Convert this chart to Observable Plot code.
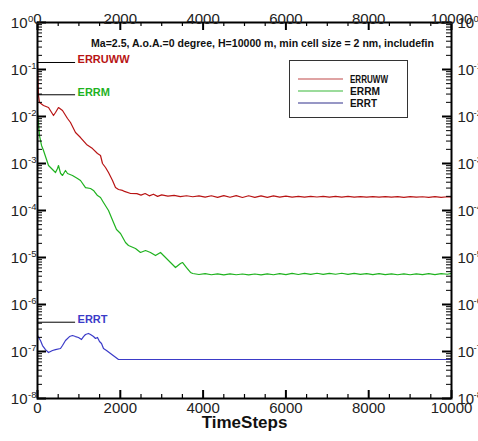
<!DOCTYPE html>
<html><head><meta charset="utf-8">
<script src="https://cdn.jsdelivr.net/npm/d3@7"></script>
<script src="https://cdn.jsdelivr.net/npm/@observablehq/plot@0.6"></script>
<style>body{margin:0;background:#fff} svg{display:block}</style>
</head><body><div id="chart"></div>
<script>
const seriesNames = ["ERRUWW", "ERRM", "ERRT"];
const seriesColors = ["#b81414", "#1fb21f", "#3b3bc8"];
const legendColors = ["#c04848", "#38b838", "#30308c"];
const titleText = "Ma=2.5, A.o.A.=0 degree, H=10000 m, min cell size = 2 nm, includefin";
const xLabel = "TimeSteps";
const xTicks = [0, 2000, 4000, 6000, 8000, 10000];
const xMinorTicks = [500, 1000, 1500, 2500, 3000, 3500, 4500, 5000, 5500, 6500, 7000, 7500, 8500, 9000, 9500];
const yExponents = [0, -1, -2, -3, -4, -5, -6, -7, -8];
const labelValues = [0.141, 0.029, 4.2e-7];
const labelLineEnd = 920;

const errruwwSteps = [0, 24, 48, 145, 266, 386, 435, 507, 604, 725, 797, 918, 1039, 1184, 1329, 1449, 1522, 1570, 1643, 1715, 1812, 1884, 1957, 2053, 2100, 2250, 2400, 2500, 2600, 2700, 2800, 2900, 3000, 3150, 3300, 3450, 3600, 3750, 3900, 4050, 4200, 4350, 4500, 4650, 4800, 4950, 5100, 5250, 5400, 5550, 5700, 5850, 6000, 6150, 6300, 6450, 6600, 6750, 6900, 7050, 7200, 7350, 7500, 7650, 7800, 7950, 8100, 8250, 8400, 8550, 8700, 8850, 9000, 9150, 9300, 9450, 9600, 9750, 9900, 10000];
const errruwwValues = [0.1276, 0.028, 0.01986, 0.01714, 0.01552, 0.0105, 0.01216, 0.01552, 0.01343, 0.00906, 0.00745, 0.00457, 0.00357, 0.00254, 0.00208, 0.00163, 0.00148, 0.001, 0.000822, 0.000644, 0.000435, 0.000308, 0.00028, 0.000267, 0.000255, 0.00023, 0.000228, 0.000212, 0.00023, 0.000205, 0.000222, 0.0002, 0.000215, 0.000202, 0.00021, 0.000197, 0.000206, 0.000196, 0.000204, 0.000192, 0.000206, 0.00019, 0.000208, 0.000191, 0.000207, 0.000189, 0.000206, 0.00019, 0.000205, 0.000191, 0.000204, 0.000192, 0.000202, 0.000193, 0.0002, 0.000193, 0.000199, 0.000194, 0.000199, 0.000193, 0.0002, 0.000192, 0.000199, 0.000193, 0.000198, 0.000192, 0.000198, 0.000193, 0.000198, 0.000192, 0.000197, 0.000191, 0.000197, 0.000192, 0.000196, 0.000191, 0.000197, 0.000191, 0.000196, 0.000193];

const errmSteps = [0, 24, 48, 97, 145, 266, 314, 386, 435, 483, 507, 556, 604, 676, 725, 845, 966, 1039, 1159, 1280, 1353, 1449, 1522, 1594, 1715, 1836, 1908, 2005, 2126, 2198, 2367, 2488, 2609, 2729, 2850, 2971, 3092, 3213, 3333, 3454, 3502, 3599, 3696, 3750, 3900, 4050, 4200, 4350, 4500, 4650, 4800, 4950, 5100, 5250, 5400, 5550, 5700, 5850, 6000, 6150, 6300, 6450, 6600, 6750, 6900, 7050, 7200, 7350, 7500, 7650, 7800, 7950, 8100, 8250, 8400, 8550, 8700, 8850, 9000, 9150, 9300, 9450, 9600, 9750, 9900, 10000];
const errmValues = [0.01216, 0.00745, 0.00394, 0.00242, 0.00189, 0.000906, 0.000822, 0.00071, 0.00064, 0.000783, 0.000906, 0.00062, 0.000556, 0.00071, 0.000612, 0.000556, 0.00048, 0.000435, 0.000308, 0.000294, 0.000267, 0.000208, 0.000189, 0.000148, 0.0001, 5.56e-5, 3.94e-5, 3.24e-5, 2.08e-5, 1.8e-5, 1.55e-5, 1.28e-5, 1.41e-5, 1.28e-5, 1.1e-5, 1.28e-5, 1.0e-5, 7.83e-6, 6.12e-6, 7.45e-6, 7.83e-6, 6.12e-6, 4.8e-6, 4.57e-6, 4.35e-6, 4.55e-6, 4.3e-6, 4.5e-6, 4.28e-6, 4.48e-6, 4.3e-6, 4.45e-6, 4.25e-6, 4.45e-6, 4.28e-6, 4.5e-6, 4.3e-6, 4.55e-6, 4.32e-6, 4.58e-6, 4.35e-6, 4.6e-6, 4.36e-6, 4.62e-6, 4.38e-6, 4.6e-6, 4.4e-6, 4.62e-6, 4.38e-6, 4.58e-6, 4.36e-6, 4.55e-6, 4.34e-6, 4.52e-6, 4.32e-6, 4.5e-6, 4.3e-6, 4.48e-6, 4.3e-6, 4.5e-6, 4.32e-6, 4.52e-6, 4.34e-6, 4.55e-6, 4.4e-6, 4.6e-6];

const errtSteps = [0, 72, 121, 193, 266, 362, 435, 556, 604, 676, 773, 845, 918, 990, 1063, 1111, 1159, 1232, 1280, 1353, 1401, 1449, 1498, 1546, 1594, 1667, 1763, 1860, 1957, 10000];
const errtValues = [2.19e-7, 1.71e-7, 1.34e-7, 1.1e-7, 9.5e-8, 1.05e-7, 1.1e-7, 1.16e-7, 1.34e-7, 1.71e-7, 2.08e-7, 2.19e-7, 2.08e-7, 1.99e-7, 1.8e-7, 2.08e-7, 2.3e-7, 2.42e-7, 2.3e-7, 2.08e-7, 1.89e-7, 1.99e-7, 1.63e-7, 1.48e-7, 1.16e-7, 1.05e-7, 9.06e-8, 7.83e-8, 6.76e-8, 6.76e-8];

const seriesSteps = [errruwwSteps, errmSteps, errtSteps];
const seriesValues = [errruwwValues, errmValues, errtValues];
const rows = seriesNames.flatMap((name, i) => seriesSteps[i].map((t, j) => ({series: name, t, v: seriesValues[i][j]})));
const labelRows = seriesNames.map((name, i) => ({series: name, v: labelValues[i]}));
const majorY = yExponents.map(e => Math.pow(10, e));
const minorY = yExponents.filter(e => e < 0).flatMap(e => [2,3,4,5,6,7,8,9].map(k => k * Math.pow(10, e)));

const W = 478, H = 441, mT = 22, mR = 27, mB = 43, mL = 37;
const pw = W - mL - mR, ph = H - mT - mB;
const font = "Liberation Sans, Arial, Helvetica, sans-serif";

const chart = Plot.plot({
  width: W, height: H,
  marginTop: mT, marginRight: mR, marginBottom: mB, marginLeft: mL,
  style: {fontFamily: font, background: "#fff", overflow: "visible"},
  x: {domain: [0, 10000], axis: null},
  y: {type: "log", domain: [1e-8, 1], axis: null},
  color: {domain: seriesNames, range: seriesColors},
  marks: [
    Plot.line(rows, {x: "t", y: "v", z: "series", stroke: "series", strokeWidth: 1.2}),
    Plot.ruleY(labelRows, {y: "v", x1: 0, x2: labelLineEnd, stroke: "#000", strokeWidth: 1}),
    Plot.text(labelRows, {x: labelLineEnd, y: "v", text: "series", fill: "series", textAnchor: "start", lineAnchor: "bottom", dx: 2, dy: 1, fontSize: 11, fontWeight: "bold"}),
    Plot.tickX(xTicks, {x: d => d, insetTop: ph - 8, stroke: "#000", strokeWidth: 2}),
    Plot.tickX(xTicks, {x: d => d, insetBottom: ph - 8, stroke: "#000", strokeWidth: 2}),
    Plot.tickX(xMinorTicks, {x: d => d, insetTop: ph - 4, stroke: "#000", strokeWidth: 1.2}),
    Plot.tickX(xMinorTicks, {x: d => d, insetBottom: ph - 4, stroke: "#000", strokeWidth: 1.2}),
    Plot.tickY(majorY, {y: d => d, insetRight: pw - 9, stroke: "#000", strokeWidth: 2}),
    Plot.tickY(majorY, {y: d => d, insetLeft: pw - 9, stroke: "#000", strokeWidth: 2}),
    Plot.tickY(minorY, {y: d => d, insetRight: pw - 5, stroke: "#000", strokeWidth: 1}),
    Plot.tickY(minorY, {y: d => d, insetLeft: pw - 5, stroke: "#000", strokeWidth: 1}),
    Plot.frame({stroke: "#000", strokeWidth: 2}),
    Plot.text(xTicks, {x: d => d, text: d => String(d), frameAnchor: "bottom", dy: 14, fontSize: 15, fill: "#222"}),
    Plot.text(xTicks, {x: d => d, text: d => String(d), frameAnchor: "top", dy: -9, fontSize: 15, fill: "#222"}),
    Plot.text(majorY, {y: d => d, text: () => "10", frameAnchor: "left", textAnchor: "end", dx: -10, dy: 1, fontSize: 15, fill: "#222"}),
    Plot.text(majorY, {y: d => d, text: (d, i) => String(yExponents[i]), frameAnchor: "left", textAnchor: "start", dx: -9.5, dy: -4, fontSize: 9.5, fill: "#222"}),
    Plot.text(majorY, {y: d => d, text: () => "10", frameAnchor: "right", textAnchor: "start", dx: 6, dy: 1, fontSize: 15, fill: "#222"}),
    Plot.text(majorY, {y: d => d, text: (d, i) => String(yExponents[i]), frameAnchor: "right", textAnchor: "start", dx: 22, dy: -4, fontSize: 9.5, fill: "#222"}),
    Plot.text([xLabel], {text: d => d, frameAnchor: "bottom", dy: 29, fontSize: 17, fontWeight: "bold", fill: "#111"})
  ]
});
document.getElementById("chart").append(chart);

const svg = d3.select(chart);
svg.append("text")
  .attr("x", 91).attr("y", 46.5).attr("text-anchor", "start")
  .attr("textLength", 343).attr("lengthAdjust", "spacingAndGlyphs")
  .attr("font-family", font).attr("font-size", 11).attr("font-weight", "bold").attr("fill", "#111")
  .text(titleText);
const lg = svg.append("g").attr("font-family", font).attr("text-anchor", "start");
lg.append("rect").attr("x", 289.5).attr("y", 60.5).attr("width", 118).attr("height", 57)
  .attr("fill", "#fff").attr("stroke", "#333").attr("stroke-width", 1);
const legendWidths = [38, 30, 27];
seriesNames.forEach((name, i) => {
  const y = 79 + i * 12;
  lg.append("line").attr("x1", 298).attr("x2", 343).attr("y1", y).attr("y2", y)
    .attr("stroke", legendColors[i]).attr("stroke-width", 1.2);
  lg.append("text").attr("x", 350).attr("y", y + 4).attr("text-anchor", "start")
    .attr("textLength", legendWidths[i]).attr("lengthAdjust", "spacingAndGlyphs")
    .attr("font-size", 11).attr("font-weight", "bold").attr("fill", "#111").text(name);
});
</script>
</body></html>
